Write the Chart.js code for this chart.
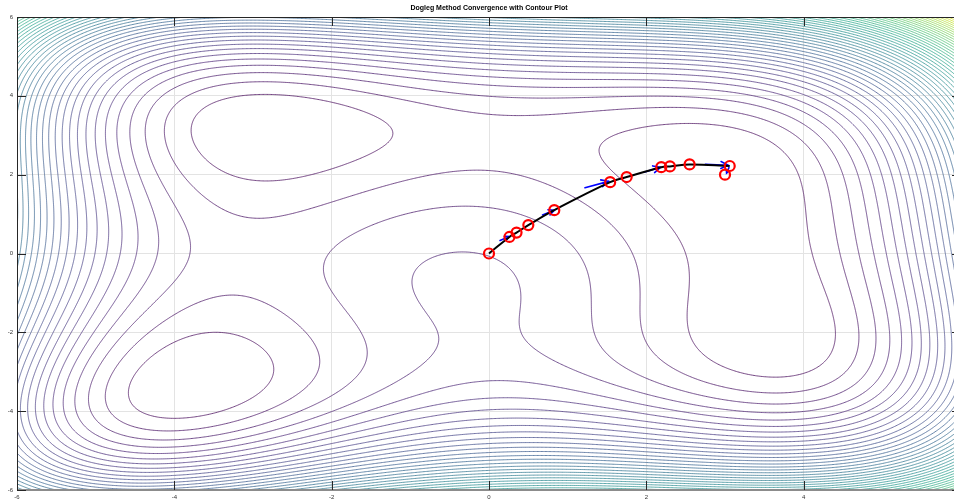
<!DOCTYPE html>
<html>
<head>
<meta charset="utf-8">
<title>Dogleg Method Convergence with Contour Plot</title>
<script src="https://cdn.jsdelivr.net/npm/chart.js@4/dist/chart.umd.min.js"></script>
<style>
  html, body { margin: 0; padding: 0; overflow: hidden; background: #fff; }
  #wrap { position: absolute; left: 0; top: 0; width: 970px; height: 499px; }
</style>
</head>
<body>
<div id="wrap"><canvas id="contourChart" width="970" height="499"></canvas></div>
<script>
// axis ranges and ticks
const xRange = [-6, 6];
const yRange = [-6, 6];
const tickValues = [-6, -4, -2, 0, 2, 4, 6];

// contour settings (objective is Himmelblau's function)
const levelCount = 50;
const gridSteps = 240;

// dogleg iterates (red circles)
const iterX = [0, 0.26, 0.35, 0.50, 0.83, 1.54, 1.75, 2.19, 2.30, 2.55, 3.06, 3.00];
const iterY = [0, 0.42, 0.53, 0.72, 1.10, 1.81, 1.94, 2.19, 2.21, 2.26, 2.22, 2.00];

// black trajectory line
const pathX = [0, 0.26, 0.35, 0.50, 0.83, 1.54, 1.75, 2.19, 2.30, 2.55, 3.06];
const pathY = [0, 0.42, 0.53, 0.72, 1.10, 1.81, 1.94, 2.19, 2.21, 2.26, 2.22];

// blue step arrows (start -> end)
const arrowX0 = [0.14, 0.68, 1.22, 1.98, 2.75, 3.05];
const arrowY0 = [0.33, 0.98, 1.67, 2.07, 2.26, 2.18];
const arrowX1 = [0.26, 0.83, 1.52, 2.18, 3.04, 3.02];
const arrowY1 = [0.43, 1.10, 1.83, 2.19, 2.24, 2.04];

const objective = (x, y) => (x * x + y - 11) ** 2 + (x + y * y - 7) ** 2;

const viridisStops = ["#440154", "#482475", "#414487", "#355f8d", "#2a788e",
  "#21918c", "#22a884", "#44bf70", "#7ad151", "#bddf26", "#fde725"];

function hexToRgb(h) {
  return [parseInt(h.slice(1, 3), 16), parseInt(h.slice(3, 5), 16), parseInt(h.slice(5, 7), 16)];
}
function viridis(t) {
  t = Math.max(0, Math.min(1, t));
  const s = t * (viridisStops.length - 1);
  const i = Math.min(Math.floor(s), viridisStops.length - 2);
  const f = s - i;
  const a = hexToRgb(viridisStops[i]), b = hexToRgb(viridisStops[i + 1]);
  const c = a.map((v, k) => Math.round(v + (b[k] - v) * f));
  return `rgb(${c[0]},${c[1]},${c[2]})`;
}

// sample grid
const N = gridSteps;
const gx = [], gy = [], gz = [];
for (let i = 0; i <= N; i++) {
  gx.push(xRange[0] + (xRange[1] - xRange[0]) * i / N);
  gy.push(yRange[0] + (yRange[1] - yRange[0]) * i / N);
}
let zMin = Infinity, zMax = -Infinity;
for (let j = 0; j <= N; j++) {
  const row = [];
  for (let i = 0; i <= N; i++) {
    const v = objective(gx[i], gy[j]);
    row.push(v);
    if (v < zMin) zMin = v;
    if (v > zMax) zMax = v;
  }
  gz.push(row);
}
const levels = [];
for (let k = 1; k <= levelCount; k++) levels.push(zMin + (zMax - zMin) * k / (levelCount + 1));

// marching squares, then chain the segments into polylines
function contourPoints(level) {
  const pts = new Map();
  const adj = new Map();
  const vOff = (N + 1) * (N + 1);
  const edgePoint = (key, xa, ya, va, xb, yb, vb) => {
    if (!pts.has(key)) {
      const t = (level - va) / (vb - va);
      pts.set(key, { x: xa + (xb - xa) * t, y: ya + (yb - ya) * t });
    }
    return key;
  };
  const link = (a, b) => {
    if (!adj.has(a)) adj.set(a, []);
    if (!adj.has(b)) adj.set(b, []);
    adj.get(a).push(b);
    adj.get(b).push(a);
  };
  for (let j = 0; j < N; j++) {
    for (let i = 0; i < N; i++) {
      const x0 = gx[i], x1 = gx[i + 1], y0 = gy[j], y1 = gy[j + 1];
      const v00 = gz[j][i], v10 = gz[j][i + 1], v11 = gz[j + 1][i + 1], v01 = gz[j + 1][i];
      const e = [];
      if ((v00 < level) !== (v10 < level)) e.push(edgePoint(j * (N + 1) + i, x0, y0, v00, x1, y0, v10));
      if ((v10 < level) !== (v11 < level)) e.push(edgePoint(vOff + j * (N + 1) + i + 1, x1, y0, v10, x1, y1, v11));
      if ((v01 < level) !== (v11 < level)) e.push(edgePoint((j + 1) * (N + 1) + i, x0, y1, v01, x1, y1, v11));
      if ((v00 < level) !== (v01 < level)) e.push(edgePoint(vOff + j * (N + 1) + i, x0, y0, v00, x0, y1, v01));
      if (e.length === 2) {
        link(e[0], e[1]);
      } else if (e.length === 4) {
        const centre = (v00 + v10 + v11 + v01) / 4;
        if ((centre < level) === (v00 < level)) { link(e[0], e[1]); link(e[2], e[3]); }
        else { link(e[0], e[3]); link(e[1], e[2]); }
      }
    }
  }
  const out = [];
  const walk = start => {
    let cur = start;
    out.push(pts.get(cur));
    while (adj.get(cur).length) {
      const nxt = adj.get(cur).pop();
      const back = adj.get(nxt);
      back.splice(back.indexOf(cur), 1);
      out.push(pts.get(nxt));
      cur = nxt;
    }
    out.push({ x: null, y: null });
  };
  for (const [k, nb] of adj) if (nb.length === 1) walk(k);
  for (const [k, nb] of adj) if (nb.length > 0) walk(k);
  return out;
}

const contourSets = levels.map(lv => ({
  label: "contour",
  data: contourPoints(lv),
  showLine: true,
  borderColor: viridis((lv - zMin) / (zMax - zMin)),
  borderWidth: 0.75,
  tension: 0.001, // keeps Chart.js off its per-pixel fast path
  pointRadius: 0,
  spanGaps: false,
  order: 2
}));

const axisColor = "#262626";

const decorPlugin = {
  id: "decor",
  beforeDatasetDraw(chart, args) {
    if (chart.data.datasets[args.index].label !== "path") return;
    const ctx = chart.ctx, xs = chart.scales.x, ys = chart.scales.y;
    ctx.save();
    ctx.strokeStyle = "#0000ff";
    ctx.lineWidth = 1.6;
    ctx.lineCap = "round";
    for (let k = 0; k < arrowX0.length; k++) {
      const ax = xs.getPixelForValue(arrowX0[k]), ay = ys.getPixelForValue(arrowY0[k]);
      const bx = xs.getPixelForValue(arrowX1[k]), by = ys.getPixelForValue(arrowY1[k]);
      const ang = Math.atan2(by - ay, bx - ax);
      const len = Math.min(8, Math.hypot(bx - ax, by - ay) * 0.5);
      ctx.beginPath();
      ctx.moveTo(ax, ay);
      ctx.lineTo(bx, by);
      ctx.moveTo(bx - len * Math.cos(ang - 0.45), by - len * Math.sin(ang - 0.45));
      ctx.lineTo(bx, by);
      ctx.lineTo(bx - len * Math.cos(ang + 0.45), by - len * Math.sin(ang + 0.45));
      ctx.stroke();
    }
    ctx.restore();
  },
  afterDraw(chart) {
    const ctx = chart.ctx, a = chart.chartArea, xs = chart.scales.x, ys = chart.scales.y;
    ctx.save();
    // axes box
    ctx.strokeStyle = axisColor;
    ctx.lineWidth = 1;
    ctx.beginPath();
    ctx.moveTo(a.left + 0.5, a.bottom);
    ctx.lineTo(a.left + 0.5, a.top + 0.5);
    ctx.lineTo(a.right, a.top + 0.5);
    ctx.stroke();
    ctx.strokeStyle = "#8c8c8c";
    ctx.lineWidth = 2;
    ctx.beginPath();
    ctx.moveTo(a.left, a.bottom);
    ctx.lineTo(a.right, a.bottom);
    ctx.stroke();
    // inward ticks
    ctx.strokeStyle = axisColor;
    ctx.lineWidth = 1;
    ctx.beginPath();
    tickValues.forEach(v => {
      const px = Math.round(xs.getPixelForValue(v)) + 0.5;
      ctx.moveTo(px, a.top); ctx.lineTo(px, a.top + 9);
      ctx.moveTo(px, a.bottom); ctx.lineTo(px, a.bottom - 9);
      const py = Math.round(ys.getPixelForValue(v)) + 0.5;
      ctx.moveTo(a.left, py); ctx.lineTo(a.left + 9, py);
      ctx.moveTo(a.right, py); ctx.lineTo(a.right - 9, py);
    });
    ctx.stroke();
    // tick labels
    ctx.fillStyle = "#333";
    ctx.font = "6px 'Liberation Sans', Arial, sans-serif";
    ctx.textAlign = "right";
    ctx.textBaseline = "middle";
    tickValues.forEach(v => ctx.fillText(String(v), a.left - 4, ys.getPixelForValue(v)));
    ctx.textAlign = "center";
    ctx.textBaseline = "top";
    tickValues.forEach(v => ctx.fillText(String(v), xs.getPixelForValue(v), a.bottom + 4));
    // title
    ctx.fillStyle = "#000";
    ctx.font = "bold 7px 'Liberation Sans', Arial, sans-serif";
    ctx.textAlign = "center";
    ctx.textBaseline = "middle";
    ctx.fillText("Dogleg Method Convergence with Contour Plot", (a.left + a.right) / 2, 8);
    ctx.restore();
  }
};

new Chart(document.getElementById("contourChart"), {
  type: "scatter",
  data: {
    datasets: [
      {
        label: "iterates",
        data: iterX.map((x, i) => ({ x, y: iterY[i] })),
        showLine: false,
        pointRadius: 5,
        pointBorderWidth: 2.2,
        pointBorderColor: "#ff0000",
        pointBackgroundColor: "rgba(0,0,0,0)",
        order: 0
      },
      {
        label: "path",
        data: pathX.map((x, i) => ({ x, y: pathY[i] })),
        showLine: true,
        borderColor: "#000",
        borderWidth: 2,
        tension: 0.4,
        pointRadius: 0,
        order: 1
      },
      ...contourSets
    ]
  },
  options: {
    responsive: false,
    animation: false,
    devicePixelRatio: 1,
    events: [],
    layout: { padding: { left: 17, top: 17, right: 9, bottom: 9 } },
    plugins: { legend: { display: false }, tooltip: { enabled: false } },
    scales: {
      x: {
        type: "linear", min: xRange[0], max: xRange[1],
        ticks: { display: false, stepSize: 2 },
        grid: { color: "#e3e3e3", drawTicks: false, tickLength: 0 },
        border: { display: false }
      },
      y: {
        type: "linear", min: yRange[0], max: yRange[1],
        ticks: { display: false, stepSize: 2 },
        grid: { color: "#e3e3e3", drawTicks: false, tickLength: 0 },
        border: { display: false }
      }
    }
  },
  plugins: [decorPlugin]
});
</script>
</body>
</html>
